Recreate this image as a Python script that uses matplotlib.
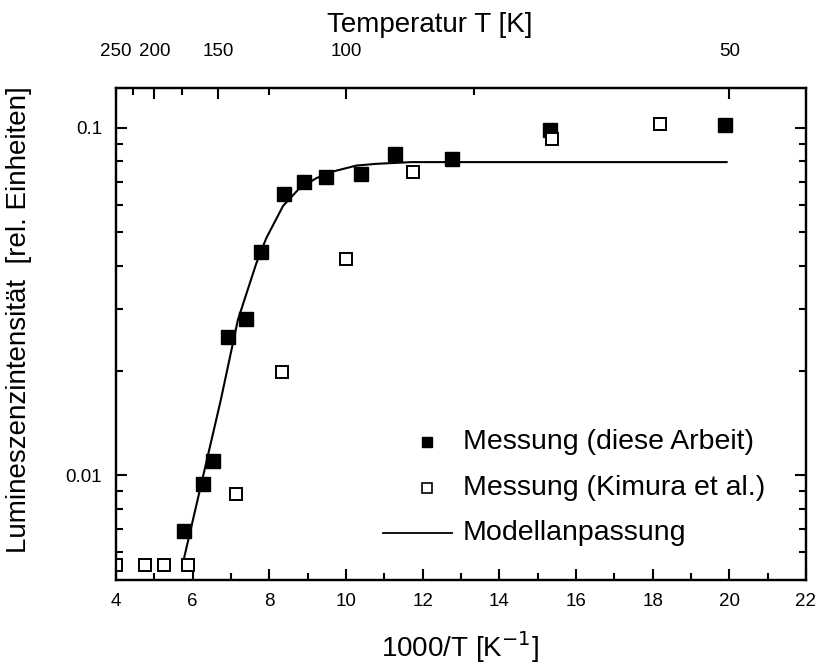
import numpy as np
import matplotlib.pyplot as plt
from matplotlib.ticker import FixedLocator, NullFormatter

plt.rcParams['font.family'] = ['Liberation Sans', 'DejaVu Sans']

# Messung (diese Arbeit)
x_own = [5.78, 6.28, 6.53, 6.93, 7.40, 7.78, 8.38, 8.90, 9.49, 10.38, 11.29, 12.77, 15.32, 19.89]
y_own = [0.00694, 0.00942, 0.0110, 0.0250, 0.0282, 0.0439, 0.0643, 0.0698, 0.0721, 0.0737,
         0.0841, 0.0813, 0.0983, 0.102]

# Messung (Kimura et al.)
x_kim = [4.0, 4.76, 5.26, 5.88, 7.14, 8.33, 10.0, 11.76, 15.38, 18.18]
y_kim = [0.00553, 0.00553, 0.00553, 0.00553, 0.00885, 0.0198, 0.0418, 0.0747, 0.0928, 0.1027]

# Modellanpassung
x_fit = [5.78, 6.73, 7.18, 7.66, 7.92, 8.36, 8.79, 9.23, 9.66, 10.27, 10.79, 11.70, 19.93]
y_fit = [0.00581, 0.0164, 0.0280, 0.0407, 0.0481, 0.0596, 0.0670, 0.0716, 0.0748, 0.0778,
         0.0787, 0.0796, 0.0796]

temp_major = [250, 200, 150, 100, 50]
temp_minor = [225, 175, 125, 75]

fig = plt.figure(figsize=(8.18, 6.67), dpi=100)
ax = fig.add_axes([0.1418, 0.1304, 0.8435, 0.7376])

ax.plot(x_fit, y_fit, color='black', lw=1.5, zorder=2)
ax.plot(x_own, y_own, 's', color='black', ms=9.5, zorder=3)
ax.plot(x_kim, y_kim, 's', mfc='white', mec='black', mew=1.4, ms=8.5, zorder=3)

ax.set_yscale('log')
ax.set_xlim(4, 22)
ax.set_ylim(0.005, 0.13)
ax.set_xticks(np.arange(4, 23, 2))
ax.set_xticks(np.arange(5, 22, 2), minor=True)
ax.yaxis.set_major_locator(FixedLocator([0.01, 0.1]))
ax.yaxis.set_minor_locator(FixedLocator([0.005, 0.006, 0.007, 0.008, 0.009,
                                          0.02, 0.03, 0.04, 0.05, 0.06, 0.07, 0.08, 0.09]))
ax.yaxis.set_minor_formatter(NullFormatter())
ax.set_yticklabels(['0.01', '0.1'])

for s in ax.spines.values():
    s.set_linewidth(1.6)
ax.tick_params(which='both', direction='in', right=True, width=1.5, labelsize=13.5)
ax.tick_params(axis='x', pad=9)
ax.tick_params(axis='y', pad=10)
ax.tick_params(which='major', length=8)
ax.tick_params(which='minor', length=5)

ax.set_xlabel('1000/T [K$^{-1}$]', fontsize=20, va='baseline')
ax.xaxis.set_label_coords(0.4986, -0.157)
ax.set_ylabel('Lumineszenzintensität  [rel. Einheiten]', fontsize=20)
ax.yaxis.set_label_coords(-0.122, 0.53)

# top axis: temperature
top = ax.twiny()
top.set_xlim(ax.get_xlim())
top.set_xticks([1000 / t for t in temp_major])
top.set_xticklabels([str(t) for t in temp_major])
top.set_xticks([1000 / t for t in temp_minor], minor=True)
top.tick_params(which='both', direction='in', width=1.5, labelsize=13.5, pad=20)
top.tick_params(which='major', length=8)
top.tick_params(which='minor', length=5)
top.set_xlabel('Temperatur T [K]', fontsize=20, va='baseline')
top.xaxis.set_label_coords(0.455, 1.114)
for s in top.spines.values():
    s.set_linewidth(1.6)

# legend, drawn by hand so it sits where the reference has it
leg_x_mark, leg_x_text = 0.451, 0.503
leg_rows = [0.280, 0.187, 0.0955]
labels = ['Messung (diese Arbeit)', 'Messung (Kimura et al.)', 'Modellanpassung']
ax.plot([leg_x_mark], [leg_rows[0]], 's', color='black', ms=7, transform=ax.transAxes)
ax.plot([leg_x_mark], [leg_rows[1]], 's', mfc='white', mec='black', mew=1.2, ms=7,
        transform=ax.transAxes)
ax.plot([0.387, 0.487], [leg_rows[2]] * 2, color='black', lw=1.3, transform=ax.transAxes)
for yy, lab in zip(leg_rows, labels):
    ax.text(leg_x_text, yy, lab, transform=ax.transAxes, fontsize=20.5, va='center', ha='left')

fig.savefig('out.png', dpi=100)
